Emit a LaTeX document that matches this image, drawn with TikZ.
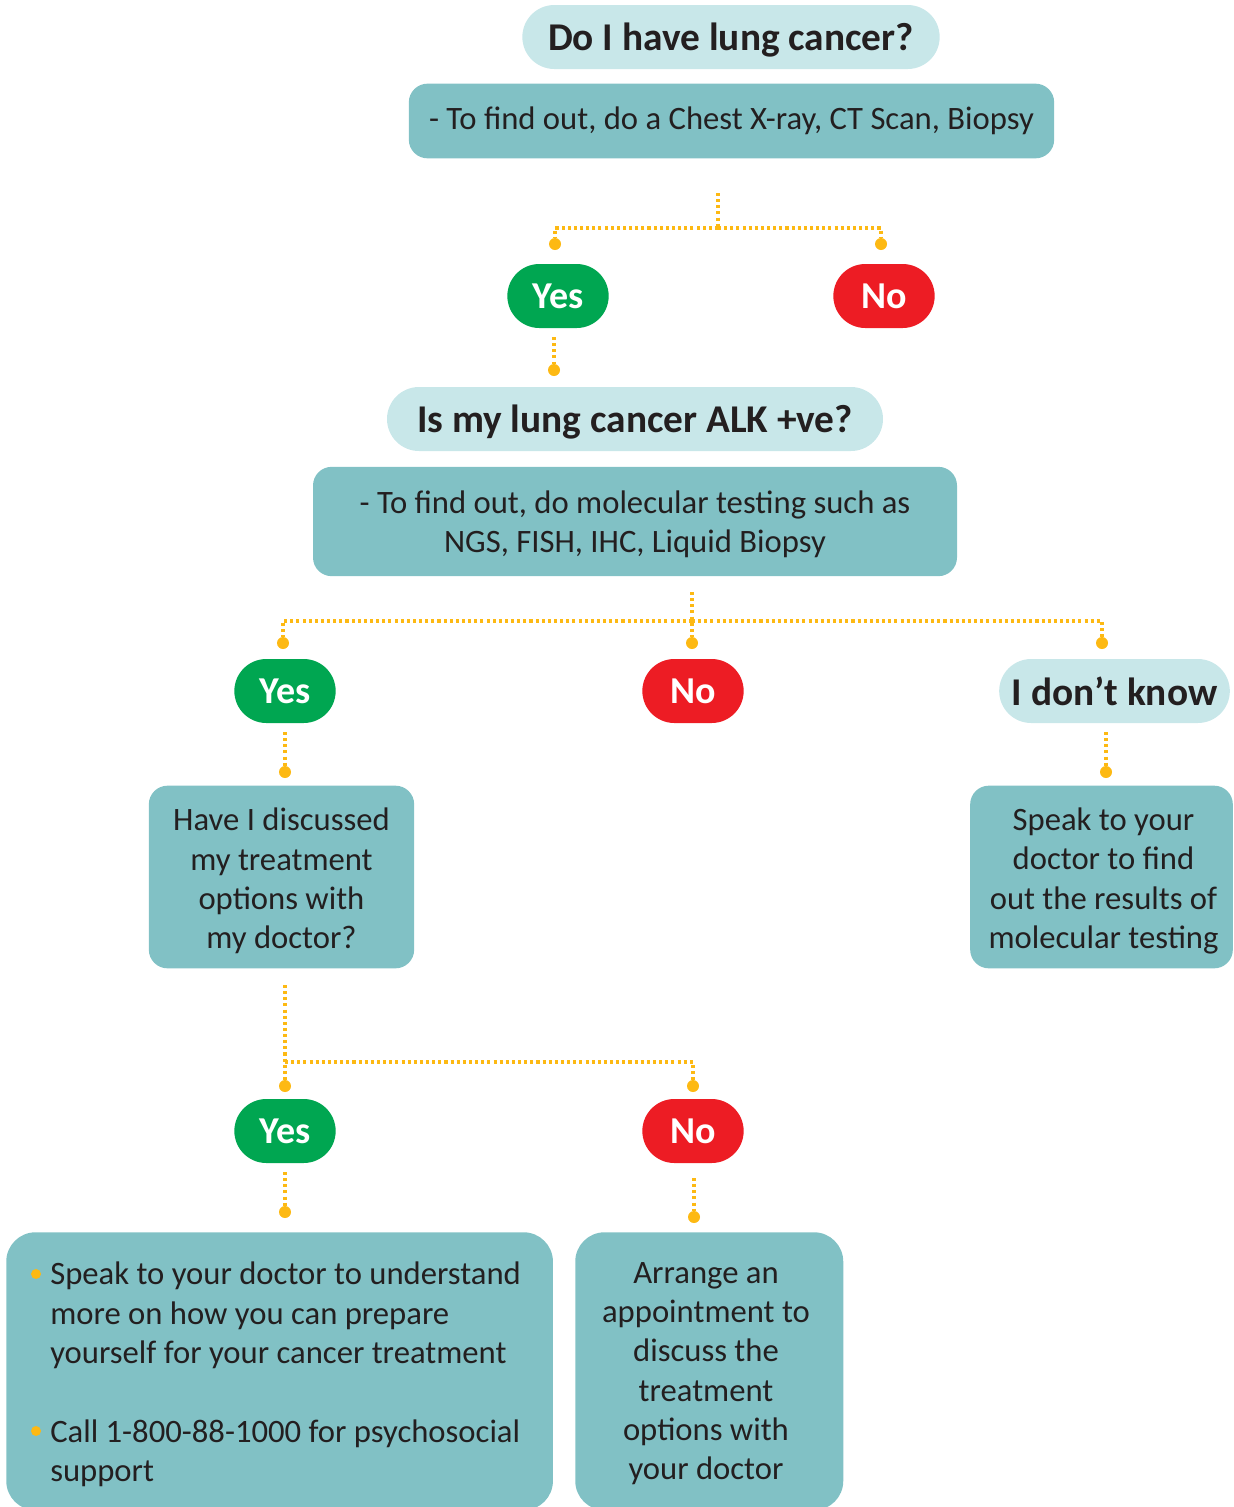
\documentclass[tikz,border=0pt]{standalone}
\usepackage{fontspec}
\setmainfont{Carlito}
\usetikzlibrary{calc}
\definecolor{pale}{HTML}{C8E7E9}
\definecolor{teal}{HTML}{81C1C5}
\definecolor{yesgreen}{HTML}{00A651}
\definecolor{nored}{HTML}{ED1C24}
\definecolor{gold}{HTML}{FDB913}
\definecolor{ink}{HTML}{231F20}
\tikzset{
  pill/.style={fill=pale, rounded corners=24pt, inner sep=0pt, text=ink,
    font=\fontsize{29.5}{32}\selectfont\bfseries, minimum height=48pt,
    text depth=0pt},
  infobox/.style={fill=teal, rounded corners=14pt, inner sep=0pt, text=ink,
    font=\fontsize{24.5}{29.5}\selectfont, align=center},
  bigbox/.style={fill=teal, rounded corners=22pt, inner sep=0pt},
  boxtext/.style={inner sep=0pt, text=ink, font=\fontsize{24.5}{29.5}\selectfont, align=center},
  yesbox/.style={fill=yesgreen, rounded corners=24pt, text=white,
    font=\fontsize{28.5}{30}\selectfont\bfseries, minimum width=76pt, minimum height=48pt, inner sep=0pt},
  nobox/.style={yesbox, fill=nored},
  link/.style={draw=gold, line width=2.3pt, dash pattern=on 2.3pt off 2.3pt},
  enddot/.style={fill=gold, draw=none, circle, minimum size=9pt, inner sep=0pt},
  bullet/.style={fill=gold, draw=none, circle, minimum size=7.5pt, inner sep=0pt},
}
\begin{document}
\begin{tikzpicture}[x=0.75pt,y=-0.75pt]
\useasboundingbox (0,0) rectangle (1233,1507);

% top level
\node[pill, minimum width=313pt] (q1) at (731,37) {Do I have lung cancer?};
\node[infobox, minimum width=484pt, minimum height=56pt] (b1) at (731.5,121) {- To find out, do a Chest X-ray, CT Scan, Biopsy};

\coordinate (s1) at (718,193);
\coordinate (j1) at (718,228);
\node[yesbox] (y1) at (558,296) {Yes};
\node[nobox] (n1) at (884,296) {No};
\node[enddot] (d1a) at (555,244) {};
\node[enddot] (d1b) at (881,244) {};
\draw[link] (s1) -- (j1);
\draw[link] (j1) -| (d1a);
\draw[link] (j1) -| (d1b);

\coordinate (s2) at (554,337);
\node[enddot] (d2) at (554,370) {};
\draw[link] (s2) -- (d2);

\node[pill, minimum width=372pt] (q2) at (635,419) {Is my lung cancer ALK +ve?};
\node[infobox, minimum width=483pt, minimum height=82pt] (b2) at (635,521.5) {};
\node[boxtext] (b2t) at ($(b2.center)+(0,3)$) {- To find out, do molecular testing such as\\NGS, FISH, IHC, Liquid Biopsy};

\coordinate (s3) at (692,592);
\coordinate (j3) at (692,621);
\node[enddot] (d3a) at (283,643) {};
\node[enddot] (d3b) at (692,643) {};
\node[enddot] (d3c) at (1102,643) {};
\draw[link] (s3) -- (d3b);
\draw[link] (j3) -| (d3a);
\draw[link] (j3) -| (d3c);

\node[yesbox] (y2) at (285,691) {Yes};
\node[nobox] (n2) at (693,691) {No};
\node[pill, minimum width=173pt] (k2) at (1114.5,691) {I don’t know};

\coordinate (s4) at (285,732);
\node[enddot] (d4) at (285,772) {};
\draw[link] (s4) -- (d4);
\coordinate (s5) at (1106,732);
\node[enddot] (d5) at (1106,772) {};
\draw[link] (s5) -- (d5);

\node[infobox, minimum width=199pt, minimum height=137pt] (b3) at (281.5,877) {};
\node[boxtext] (b3t) at ($(b3.center)+(0,4)$) {Have I discussed\\my treatment\\options with\\my doctor?};
\node[infobox, minimum width=197pt, minimum height=137pt] (b4) at (1101.5,877) {};
\node[boxtext] (b4t) at ($(b4.center)+(2,4)$) {Speak to your\\doctor to find\\out the results of\\molecular testing};

\coordinate (s6) at (285,985);
\coordinate (j6) at (285,1062);
\node[enddot] (d6a) at (285,1086) {};
\node[enddot] (d6b) at (693,1086) {};
\draw[link] (s6) -- (d6a);
\draw[link] (j6) -| (d6b);

\node[yesbox] (y3) at (285,1131) {Yes};
\node[nobox] (n3) at (693,1131) {No};

\coordinate (s7) at (285,1172);
\node[enddot] (d7) at (285,1212) {};
\draw[link] (s7) -- (d7);
\coordinate (s8) at (694,1178);
\node[enddot] (d8) at (694,1217) {};
\draw[link] (s8) -- (d8);

% bottom boxes
\node[bigbox, minimum width=410pt, minimum height=208.5pt, anchor=north west] (b5) at (6,1232) {};
\node[bigbox, minimum width=201pt, minimum height=208.5pt, anchor=north west] (b6) at (575,1232) {};

\node[boxtext, anchor=north west, align=left] (t5) at (50,1262)
  {Speak to your doctor to understand\\more on how you can prepare\\yourself for your cancer treatment\\[29.5pt]Call 1-800-88-1000 for psychosocial\\support};
\node[bullet] (bul1) at (36,1274) {};
\node[bullet] (bul2) at (36,1431) {};

\node[boxtext, anchor=north] (t6) at (706,1262)
  {Arrange an\\appointment to\\discuss the\\treatment\\options with\\your doctor};
\end{tikzpicture}
\end{document}
